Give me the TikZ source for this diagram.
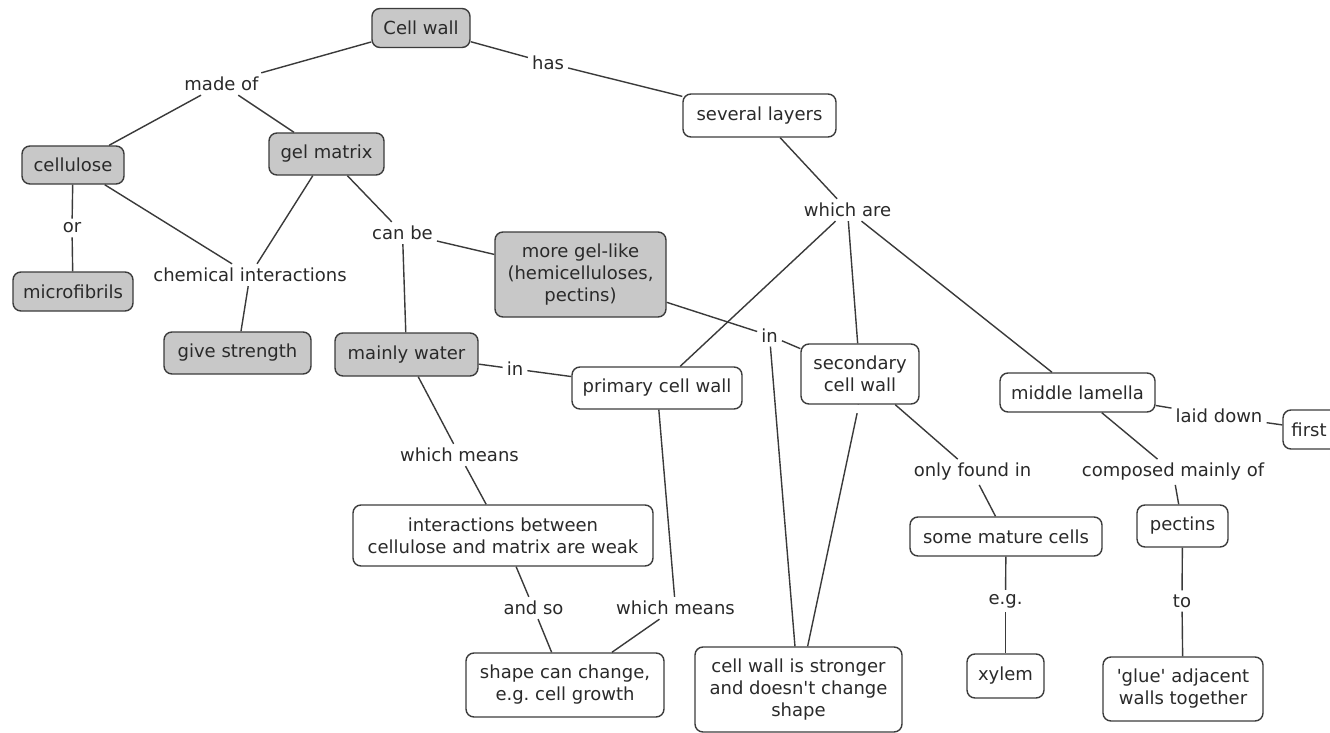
\documentclass[tikz,border=0pt]{standalone}
\usepackage{fontspec}
\setmainfont{DejaVu Sans}
\frenchspacing
\definecolor{edge}{HTML}{3C3C3C}
\definecolor{wire}{HTML}{3A3A3A}
\definecolor{ink}{HTML}{2A2A2A}
\definecolor{conceptgrey}{HTML}{C8C8C8}
\tikzset{
  every node/.style={font=\fontsize{18}{22}\selectfont, text=ink},
  concept/.style={draw=edge, line width=1.4pt, rounded corners=8pt, fill=white,
    inner sep=0pt, align=center},
  greyconcept/.style={concept, fill=conceptgrey},
  sz/.style 2 args={minimum width=#1pt, minimum height=#2pt},
  link/.style={inner sep=4pt, align=center},
  blank/.style={inner sep=0pt, minimum width=4pt, minimum height=8pt},
  conn/.style={draw=wire, line width=1.4pt},
}
\begin{document}
\begin{tikzpicture}[x=1pt, y=-1pt]
\useasboundingbox (0,0) rectangle (1330,733);
\clip (0,0) rectangle (1330,733);
\fill[white] (0,0) rectangle (1330,733);

% grey concepts
\node[greyconcept, sz={98}{39}]  (cw)  at (421,28)    {Cell wall};
\node[greyconcept, sz={102}{38}] (cel) at (73,165)    {cellulose};
\node[greyconcept, sz={115}{42}] (gel) at (326.5,154) {gel matrix};
\node[greyconcept, sz={120}{39}] (mic) at (73,291.5)  {microfibrils};
\node[greyconcept, sz={147}{42}] (gs)  at (237.5,353) {give strength};
\node[greyconcept, sz={143}{43}] (mw)  at (406.5,354.5) {mainly water};
\node[greyconcept, sz={171}{85}] (mgl) at (580.5,274.5)
  {more gel-like\\(hemicelluloses,\\pectins)};

% white concepts
\node[concept, sz={153}{43}] (sl)   at (759.5,115.5) {several layers};
\node[concept, sz={170}{42}] (pcw)  at (657,388)     {primary cell wall};
\node[concept, sz={118}{60}] (scw)  at (860,374)     {secondary\\cell wall};
\node[concept, sz={155}{39}] (ml)   at (1077.5,392.5) {middle lamella};
\node[concept, sz={64}{39}]  (fst)  at (1315,429.5)  {first\hspace{12pt}};
\node[concept, sz={300}{61}] (iw)   at (503,535.5)
  {interactions between\\cellulose and matrix are weak};
\node[concept, sz={198}{64}] (scc)  at (565,685)
  {shape can change,\\e.g. cell growth};
\node[concept, sz={207}{85}] (strong) at (798.5,689.5)
  {cell wall is stronger\\and doesn\textquotesingle t change\\shape};
\node[concept, sz={192}{39}] (smc)  at (1006,536.5)  {some mature cells};
\node[concept, sz={77}{44}]  (xy)   at (1005.5,676)  {xylem};
\node[concept, sz={91}{42}]  (pec)  at (1182.5,526)  {pectins};
\node[concept, sz={160}{64}] (glue) at (1183,689)
  {\textquotesingle glue\textquotesingle\ adjacent\\walls together};

% linking phrases
\node[link] (madeof)  at (221.5,84)  {made of};
\node[link] (has)     at (548,63)    {has};
\node[link] (or)      at (72,228)    {or};
\node[link] (chem)    at (250,275)   {chemical interactions};
\node[link] (canbe)   at (402.5,233) {can be};
\node[link] (whichare) at (847.5,210) {which are};
\node[link] (inA)     at (515,369)   {in};
\node[link] (inB)     at (769.5,335.5) {in};
\node[link] (wmA)     at (459.5,455) {which means};
\node[link] (andso)   at (533.5,608) {and so};
\node[link] (wmB)     at (675.5,608) {which means};
\node[link] (only)    at (972.5,472) {only found in};
\node[link] (comp)    at (1173,472)  {composed mainly of};
\node[link] (laid)    at (1219,416)  {laid down};
\node[link] (eg)      at (1005.5,601) {e.g.};
\node[link] (to)      at (1182,601)  {to};
\node[blank] (hidden) at (858,409)   {};

% connectors
\draw[conn] (cw) -- (madeof);
\draw[conn] (madeof) -- (cel);
\draw[conn] (madeof) -- (gel);
\draw[conn] (cw) -- (has);
\draw[conn] (has) -- (sl);
\draw[conn] (cel) -- (or);
\draw[conn] (or) -- (mic);
\draw[conn] (cel) -- (chem);
\draw[conn] (gel) -- (chem);
\draw[conn] (chem) -- (gs);
\draw[conn] (gel) -- (canbe);
\draw[conn] (canbe) -- (mw);
\draw[conn] (canbe) -- (mgl);
\draw[conn] (mw) -- (inA);
\draw[conn] (inA) -- (pcw);
\draw[conn] (mgl) -- (inB);
\draw[conn] (inB) -- (scw);
\draw[conn] (inB) -- (strong);
\draw[conn] (sl) -- (whichare);
\draw[conn] (whichare) -- (pcw);
\draw[conn] (whichare) -- (scw);
\draw[conn] (whichare) -- (ml);
\draw[conn] (mw) -- (wmA);
\draw[conn] (wmA) -- (iw);
\draw[conn] (iw) -- (andso);
\draw[conn] (andso) -- (scc);
\draw[conn] (pcw) -- (wmB);
\draw[conn] (wmB) -- (scc);
\draw[conn] (scw) -- (hidden);
\draw[conn] (hidden) -- (strong);
\draw[conn] (scw) -- (only);
\draw[conn] (only) -- (smc);
\draw[conn] (smc) -- (eg);
\draw[conn] (eg) -- (xy);
\draw[conn] (ml) -- (laid);
\draw[conn] (laid) -- (fst);
\draw[conn] (ml) -- (comp);
\draw[conn] (comp) -- (pec);
\draw[conn] (pec) -- (to);
\draw[conn] (to) -- (glue);
\end{tikzpicture}
\end{document}
